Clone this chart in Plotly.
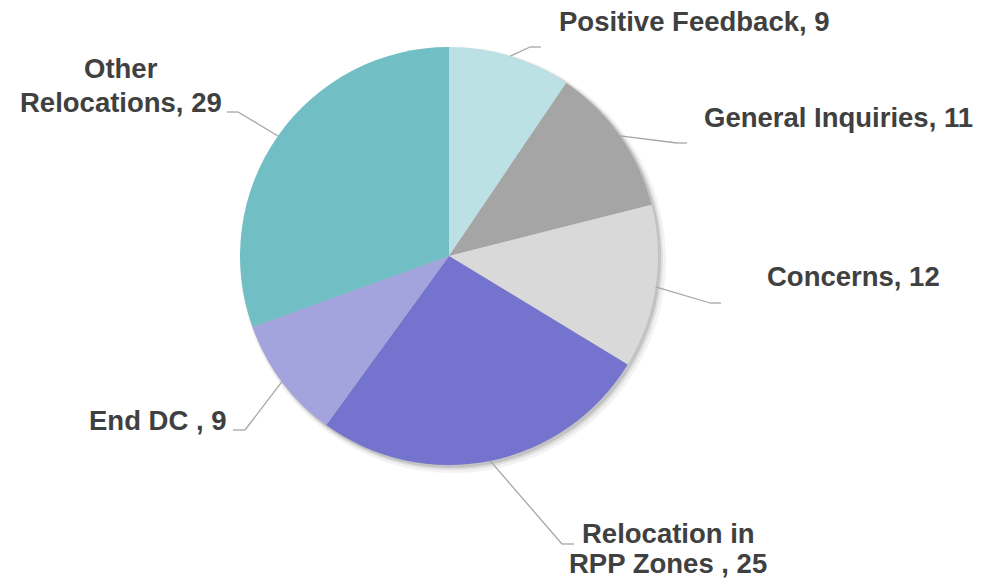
import plotly.graph_objects as go
import math

# ---- data ----
categories = ["Positive Feedback", "General Inquiries", "Concerns",
              "Relocation in RPP Zones ", "End DC ", "Other Relocations"]
values = [9, 11, 12, 25, 9, 29]
label_lines = [["Positive Feedback, 9"], ["General Inquiries, 11"], ["Concerns, 12"],
               ["Relocation in", "RPP Zones , 25"], ["End DC , 9"], ["Other", "Relocations, 29"]]

# ---- styles / layout ----
colors = ["#BCE1E5", "#A5A5A5", "#D9D9D9", "#7474CE", "#A3A3DE", "#72BEC5"]
W, H = 987, 580
CX, CY, R = 449, 256, 209
LINE_GAP = 33

# label placement (pixel coords): elbow point, line end, first-line anchor, alignment
label_layout = [
    dict(elbow=(530, 47), end=(541, 47), pos=(694, 21), xanchor="center"),
    dict(elbow=(677, 143), end=(687, 143), pos=(838, 117), xanchor="center"),
    dict(elbow=(710, 303), end=(721, 303), pos=(853, 276), xanchor="center"),
    dict(elbow=(562, 544), end=(574, 544), pos=(668, 533), xanchor="center"),
    dict(elbow=(245, 430), end=(233, 430), pos=(229, 420), xanchor="right"),
    dict(elbow=(238, 112), end=(227, 112), pos=(121, 69), xanchor="center"),
]


def px(x):
    return x / W


def py(y):
    return 1 - y / H


fig = go.Figure()

# soft shadow layers behind the pie
for grow, off, alpha in [(4, 4, 0.05), (2, 3, 0.08), (1, 2, 0.12)]:
    r = R + grow
    fig.add_trace(go.Pie(
        values=[1], labels=["shadow"], marker=dict(colors=[f"rgba(0,0,0,{alpha})"], line=dict(width=0)),
        textinfo="none", hoverinfo="skip", showlegend=False, sort=False,
        domain=dict(x=[px(CX + off - r), px(CX + off + r)], y=[py(CY + off + r), py(CY + off - r)]),
    ))

fig.add_trace(go.Pie(
    labels=categories, values=values, sort=False, direction="clockwise", rotation=0,
    marker=dict(colors=colors, line=dict(width=0)),
    textinfo="none", showlegend=False,
    domain=dict(x=[px(CX - R), px(CX + R)], y=[py(CY + R), py(CY - R)]),
))

total = sum(values)
cum = 0
shapes = []
annotations = []
for v, lines, lay in zip(values, label_lines, label_layout):
    mid = (cum + v / 2) / total * 2 * math.pi
    cum += v
    sx = CX + R * math.sin(mid)
    sy = CY - R * math.cos(mid)
    pts = [(sx, sy), lay["elbow"], lay["end"]]
    for (x0, y0), (x1, y1) in zip(pts[:-1], pts[1:]):
        shapes.append(dict(type="line", xref="paper", yref="paper",
                           x0=px(x0), y0=py(y0), x1=px(x1), y1=py(y1),
                           line=dict(color="#A6A6A6", width=1.3), layer="above"))
    for i, txt in enumerate(lines):
        y = lay["pos"][1] + i * LINE_GAP
        if i > 0 and y > 563:
            y = 563
        annotations.append(dict(
            xref="paper", yref="paper", x=px(lay["pos"][0]), y=py(y),
            text=f"<b>{txt}</b>", showarrow=False, xanchor=lay["xanchor"], yanchor="middle",
            font=dict(family="Arial, Liberation Sans, sans-serif", size=27.5, color="#404040"),
        ))

fig.update_layout(
    width=W, height=H, margin=dict(l=0, r=0, t=0, b=0),
    paper_bgcolor="white", plot_bgcolor="white",
    shapes=shapes, annotations=annotations, showlegend=False,
)

fig.write_html("out.html", config={"displayModeBar": False},
               post_script="document.body.style.margin='0';")
